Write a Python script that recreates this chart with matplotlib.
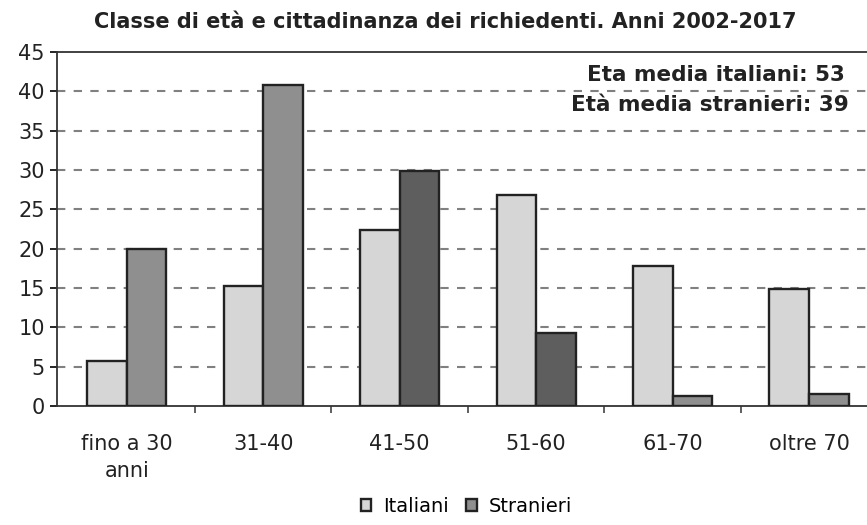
import numpy as np
import matplotlib.pyplot as plt

plt.rcParams['font.family'] = ['DejaVu Sans']

# Data
categories = ['fino a 30\nanni', '31-40', '41-50', '51-60', '61-70', 'oltre 70']
italiani = [5.7, 15.3, 22.3, 26.8, 17.8, 14.8]
stranieri = [20.0, 40.8, 29.8, 9.2, 1.2, 1.5]
series_names = ['Italiani', 'Stranieri']
note_lines = ['Eta media italiani: 53', 'Età media stranieri: 39']
title = 'Classe di età e cittadinanza dei richiedenti. Anni 2002-2017'

fig = plt.figure(figsize=(8.67, 5.25), dpi=100)
ax = fig.add_axes([0.066, 0.227, 0.934, 0.674])

x = np.arange(len(categories))
w = 0.29
str_colors = ['#8f8f8f', '#8f8f8f', '#5e5e5e', '#5e5e5e', '#8f8f8f', '#8f8f8f']

ax.bar(x - w / 2, italiani, w, color='#d6d6d6', edgecolor='#222222',
       linewidth=1.7, label=series_names[0], zorder=3)
ax.bar(x + w / 2, stranieri, w, color=str_colors, edgecolor='#222222',
       linewidth=1.7, label=series_names[1], zorder=3)

ax.set_xlim(-0.51, 5.425)
ax.set_ylim(0, 45)
ax.set_yticks(range(0, 46, 5))
ax.set_xticks(x)
ax.set_xticklabels(categories, fontsize=15, linespacing=1.45, color='#222222')
ax.tick_params(axis='x', length=0, pad=20)
ax.set_xticks(np.arange(0.5, 5, 1), minor=True)
ax.tick_params(axis='x', which='minor', length=5, width=1.2, color='#444444')
ax.tick_params(axis='y', labelsize=15, length=5, width=1.2, pad=4,
               labelcolor='#222222')

for y in range(5, 45, 5):
    ax.axhline(y, color='#808080', linestyle=(0, (4, 4)), linewidth=1.5, zorder=1)

ax.spines['right'].set_visible(False)
for s in ['left', 'bottom', 'top']:
    ax.spines[s].set_linewidth(1.3)
    ax.spines[s].set_color('#333333')

ax.text(0.973, 0.935, note_lines[0], transform=ax.transAxes, ha='right', va='center',
        fontsize=15.5, fontweight='bold', color='#222222', zorder=4)
ax.text(0.977, 0.85, note_lines[1], transform=ax.transAxes, ha='right', va='center',
        fontsize=15.5, fontweight='bold', color='#222222', zorder=4)

fig.text(0.513, 0.958, title, ha='center', va='center', fontsize=15,
         fontweight='bold', color='#222222')

fig.legend(loc='center', bbox_to_anchor=(0.538, 0.035), ncol=2, frameon=False,
           fontsize=14, handlelength=0.55, handleheight=0.55, handletextpad=0.6,
           columnspacing=0.9)

fig.savefig('out.png', dpi=100)
